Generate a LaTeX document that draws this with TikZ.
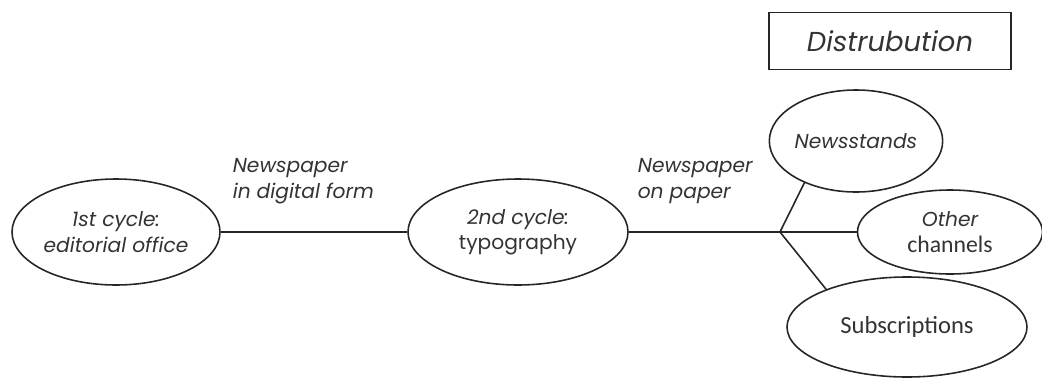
\documentclass[tikz,border=0pt]{standalone}
\usepackage{fontspec}
\setmainfont{Poppins}
\newfontfamily\calfont{Carlito}
\usetikzlibrary{positioning, shapes.geometric}

\begin{document}
\begin{tikzpicture}[line width=0.9pt, draw=black!85, text=black!80,
  font=\fontsize{11.5}{14.5}\selectfont,
  stage/.style={draw, ellipse, inner sep=0pt, align=center},
  flowlabel/.style={align=left, inner sep=0pt, font=\fontsize{11.5}{14.5}\selectfont\itshape}]

  \useasboundingbox (0,0) rectangle (20.84,-7.56);

  % Cycles
  \node[stage, minimum width=4.16cm, minimum height=2.12cm] (C1) at (2.32,-4.64)
    {\itshape 1st cycle:\\\itshape editorial office};
  \node[stage, minimum width=4.4cm, minimum height=2.12cm] (C2) at (10.36,-4.64)
    {\itshape 2nd cycle:\\typography};

  % Distribution
  \node[draw, rectangle, minimum width=4.84cm, minimum height=1.14cm,
        font=\fontsize{15.6}{18}\selectfont\itshape] (D) at (17.8,-0.82) {Distrubution};
  \coordinate (J) at (15.6,-4.64);
  \node[stage, minimum width=3.12cm, minimum height=2.04cm] (N) at (17.12,-2.82)
    {\itshape Newsstands};
  \node[stage, minimum width=3.7cm, minimum height=1.68cm] (O) at (19.0,-4.64)
    {\itshape Other\\\calfont\fontsize{13.5}{14.5}\selectfont channels};
  \node[stage, minimum width=4.8cm, minimum height=2.0cm,
        font=\calfont\fontsize{14}{16}\selectfont] (S) at (18.14,-6.54)
    {Subscriptions};

  % Labels
  \node[flowlabel, anchor=north west] (L1) at (4.64,-3.16) {Newspaper\\in digital form};
  \node[flowlabel, anchor=north west] (L2) at (12.74,-3.16) {Newspaper\\on paper};

  % Edges
  \draw (C1) -- (C2);
  \draw (C2) -- (J);
  \draw (J) -- (N.219);
  \draw (J) -- (O);
  \draw (J) -- (S.155);

\end{tikzpicture}
\end{document}
